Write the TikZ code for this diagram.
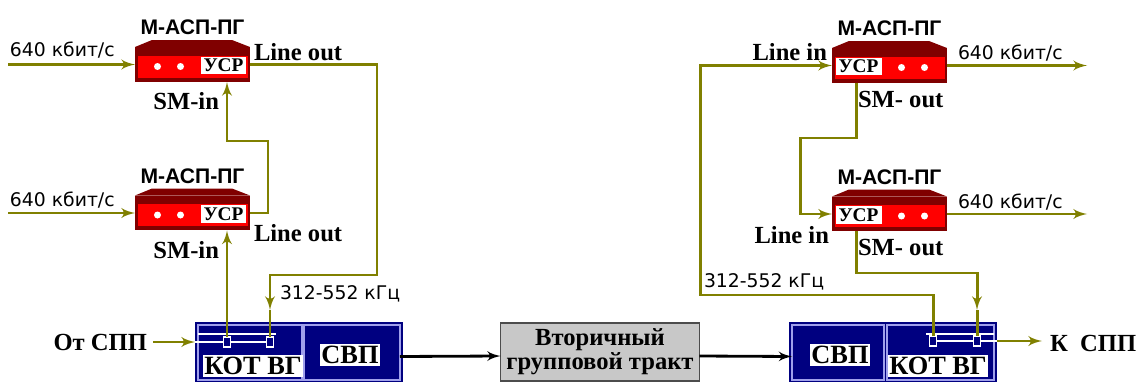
\documentclass[tikz,border=0pt]{standalone}
\usepackage{fontspec}
\setmainfont{Liberation Serif}
\newfontfamily\ratefont{DejaVu Sans}
\newfontfamily\headfont{Liberation Sans}
\usetikzlibrary{shapes,arrows,calc,positioning}
\usepackage{color}

\definecolor{wire}{RGB}{128,128,0}
\definecolor{devred}{RGB}{255,0,0}
\definecolor{devdark}{RGB}{128,0,0}
\definecolor{kotblue}{RGB}{0,0,128}
\definecolor{kotedge}{RGB}{160,160,235}
\definecolor{tractgray}{RGB}{200,200,200}

% one M-ASP-PG unit: name, x, y, side of the USR window (1 right, -1 left)
\newcommand{\masp}[4]{%
  \node[devbody] at (#2,#3) (#1) {};
  \fill[devdark] (#1.north west) -- ++(17,-7) -- ++(80,0) -- (#1.north east) -- cycle;
  \fill[devred] ($(#1.center)+(-55,-9)$) rectangle ($(#1.center)+(55,13)$);
  \node[usrbox] at ($(#1.center)+({31*(#4)},1)$) (#1usr) {УСР};
  \fill[white] ($(#1.center)+({-35*(#4)},2)$) circle (0.07cm);
  \fill[white] ($(#1.center)+({-12*(#4)},2)$) circle (0.07cm);
  \node[devtitle] at ($(#1.center)+(0,-37)$) (#1title) {М-АСП-ПГ};
}

\begin{document}
\begin{tikzpicture}[auto, outer sep=0pt, node distance=0cm, >=latex',
    x=0.02cm, y=-0.02cm,
    wire/.style={draw=wire, line width=1.7pt},
    bus/.style={draw=black, line width=1.6pt},
    inner/.style={draw=white, line width=0.6pt},
    devbody/.style={fill=devdark, minimum width=2.3cm, minimum height=0.7cm, inner sep=0pt},
    usrbox/.style={fill=white, minimum width=0.92cm, minimum height=0.36cm, inner sep=0pt,
        font=\bfseries\fontsize{11}{12}\selectfont},
    devtitle/.style={font=\headfont\bfseries\fontsize{12}{14}\selectfont, inner sep=0pt},
    block/.style={fill=kotblue, minimum width=4.16cm, minimum height=1.2cm, inner sep=0pt},
    kotpart/.style={fill=kotblue, draw=kotedge, line width=0.6pt, minimum height=1.1cm, inner sep=0pt},
    txtbox/.style={fill=white, inner sep=1pt, font=\bfseries\fontsize{15}{16}\selectfont},
    port/.style={draw=white, fill=kotblue, line width=0.6pt, minimum width=0.14cm,
        minimum height=0.2cm, inner sep=0pt},
    tract/.style={fill=tractgray, draw=black!70, line width=1pt, minimum width=3.88cm,
        minimum height=1.16cm, align=center, font=\bfseries\fontsize{14}{12.5}\selectfont},
    tag/.style={font=\bfseries\fontsize{14}{16}\selectfont, inner sep=0pt},
    rate/.style={font=\ratefont\fontsize{10.7}{12}\selectfont, inner sep=0pt}]

\useasboundingbox (0,0) rectangle (1143,382);

% units
\masp{MUX1}{192.5}{64.5}{1}
\masp{MUX2}{192.5}{213}{1}
\masp{MUX3}{889.5}{65.5}{-1}
\masp{MUX4}{889.5}{214}{-1}

% left block
\node[block] at (299,352) (BLOCKL) {};
\node[kotpart, minimum width=2.08cm] at (250,352.5) (KOTL) {};
\node[kotpart, minimum width=1.92cm] at (352,352.5) (SVPL) {};
\node[txtbox] at (253,366) (KOTLtxt) {КОТ ВГ};
\node[txtbox] at (350,355) (SVPLtxt) {СВП};
\draw[inner] (KOTL.north west |- 0,334) -- (276,334);
\node[port] at (227,342) (PL1) {};
\node[port] at (270,342) (PL2) {};

% right block
\node[block] at (893,352) (BLOCKR) {};
\node[kotpart, minimum width=1.84cm] at (838,352.5) (SVPR) {};
\node[kotpart, minimum width=2.14cm] at (940.5,352.5) (KOTR) {};
\node[txtbox] at (840,355) (SVPRtxt) {СВП};
\node[txtbox] at (938,366) (KOTRtxt) {КОТ ВГ};
\draw[inner] (926,334) -- (KOTR.north east |- 0,334);
\node[port] at (933,341) (PR1) {};
\node[port] at (977,341) (PR2) {};

% secondary group path
\node[tract] at (600,352) (TRACT) {Вторичный\\групповой тракт};
\draw[bus,->] ($(SVPL.east)+(0,4)$) -- ($(TRACT.west)+(0,4)$);
\draw[bus,->] ($(TRACT.east)+(0,4)$) -- ($(SVPR.west)+(0,4)$);

% left side wires
\coordinate (IN1) at (8,64.5);
\coordinate (IN2) at (8,213);
\draw[wire,->] (IN1) -- (MUX1.west);
\draw[wire,->] (IN2) -- (MUX2.west);
\coordinate (B1) at (377,275);
\coordinate (TIP1) at (270,310);
\draw[wire,->] (MUX1.east) -| (B1) -| (TIP1);
\draw[wire] (TIP1) -- (PL2.north);
\coordinate (B2) at (268,141);
\coordinate (B2b) at (227,141);
\draw[wire,->] (MUX2.east) -| (B2) -- (B2b) -- (B2b |- MUX1.south);
\draw[wire,->] (PL1.north) -- (PL1 |- MUX2.south);
\coordinate (INS) at (153,342);
\draw[wire,->] (INS) -- (BLOCKL.west |- PL1);
\draw[inner] (BLOCKL.west |- PL1) -- (PL1.west);
\draw[inner] (PL1.east) -- (PL2.west);

% right side wires
\coordinate (B3) at (700,295);
\draw[wire,->] (PR1.north) |- (B3) |- (MUX3.west);
\coordinate (B4) at (856,138);
\coordinate (B4b) at (800,138);
\draw[wire,->] (B4 |- MUX3.south) -- (B4) -- (B4b) |- (MUX4.west);
\coordinate (B5) at (856,273);
\coordinate (TIP2) at (977,310);
\draw[wire,->] (B5 |- MUX4.south) -- (B5) -| (TIP2);
\draw[wire] (TIP2) -- (PR2.north);
\coordinate (OUT3) at (1087,65.5);
\coordinate (OUT4) at (1087,214);
\draw[wire,->] (MUX3.east) -- (OUT3);
\draw[wire,->] (MUX4.east) -- (OUT4);
\draw[inner] (PR1.east) -- (PR2.west);
\draw[inner] (PR2.east) -- (BLOCKR.east |- PR2);
\coordinate (OUTK) at (1042,341);
\draw[wire,->] (BLOCKR.east |- PR2) -- (OUTK);

% labels
\node[rate, anchor=west] at (10,50) (R1) {640 кбит/с};
\node[rate, anchor=west] at (10,200) (R2) {640 кбит/с};
\node[rate, anchor=west] at (958,53) (R3) {640 кбит/с};
\node[rate, anchor=west] at (958,202) (R4) {640 кбит/с};
\node[rate, anchor=west] at (280,294) (F1) {312-552 кГц};
\node[rate, anchor=west] at (704,282) (F2) {312-552 кГц};
\node[tag, anchor=west] at (254,52) (LO1) {Line out};
\node[tag, anchor=west] at (254,233) (LO2) {Line out};
\node[tag, anchor=east] at (219,101) (SI1) {SM-in};
\node[tag, anchor=east] at (219,250) (SI2) {SM-in};
\node[tag, anchor=east] at (827,52) (LI3) {Line in};
\node[tag, anchor=east] at (829,235) (LI4) {Line in};
\node[tag, anchor=west] at (858,100) (SO3) {SM- out};
\node[tag, anchor=west] at (858,248) (SO4) {SM- out};
\node[tag, anchor=east] at (147,342) (FROM) {От СПП};
\node[tag, anchor=west] at (1050,343) (TO) {К~~СПП};
\end{tikzpicture}
\end{document}
